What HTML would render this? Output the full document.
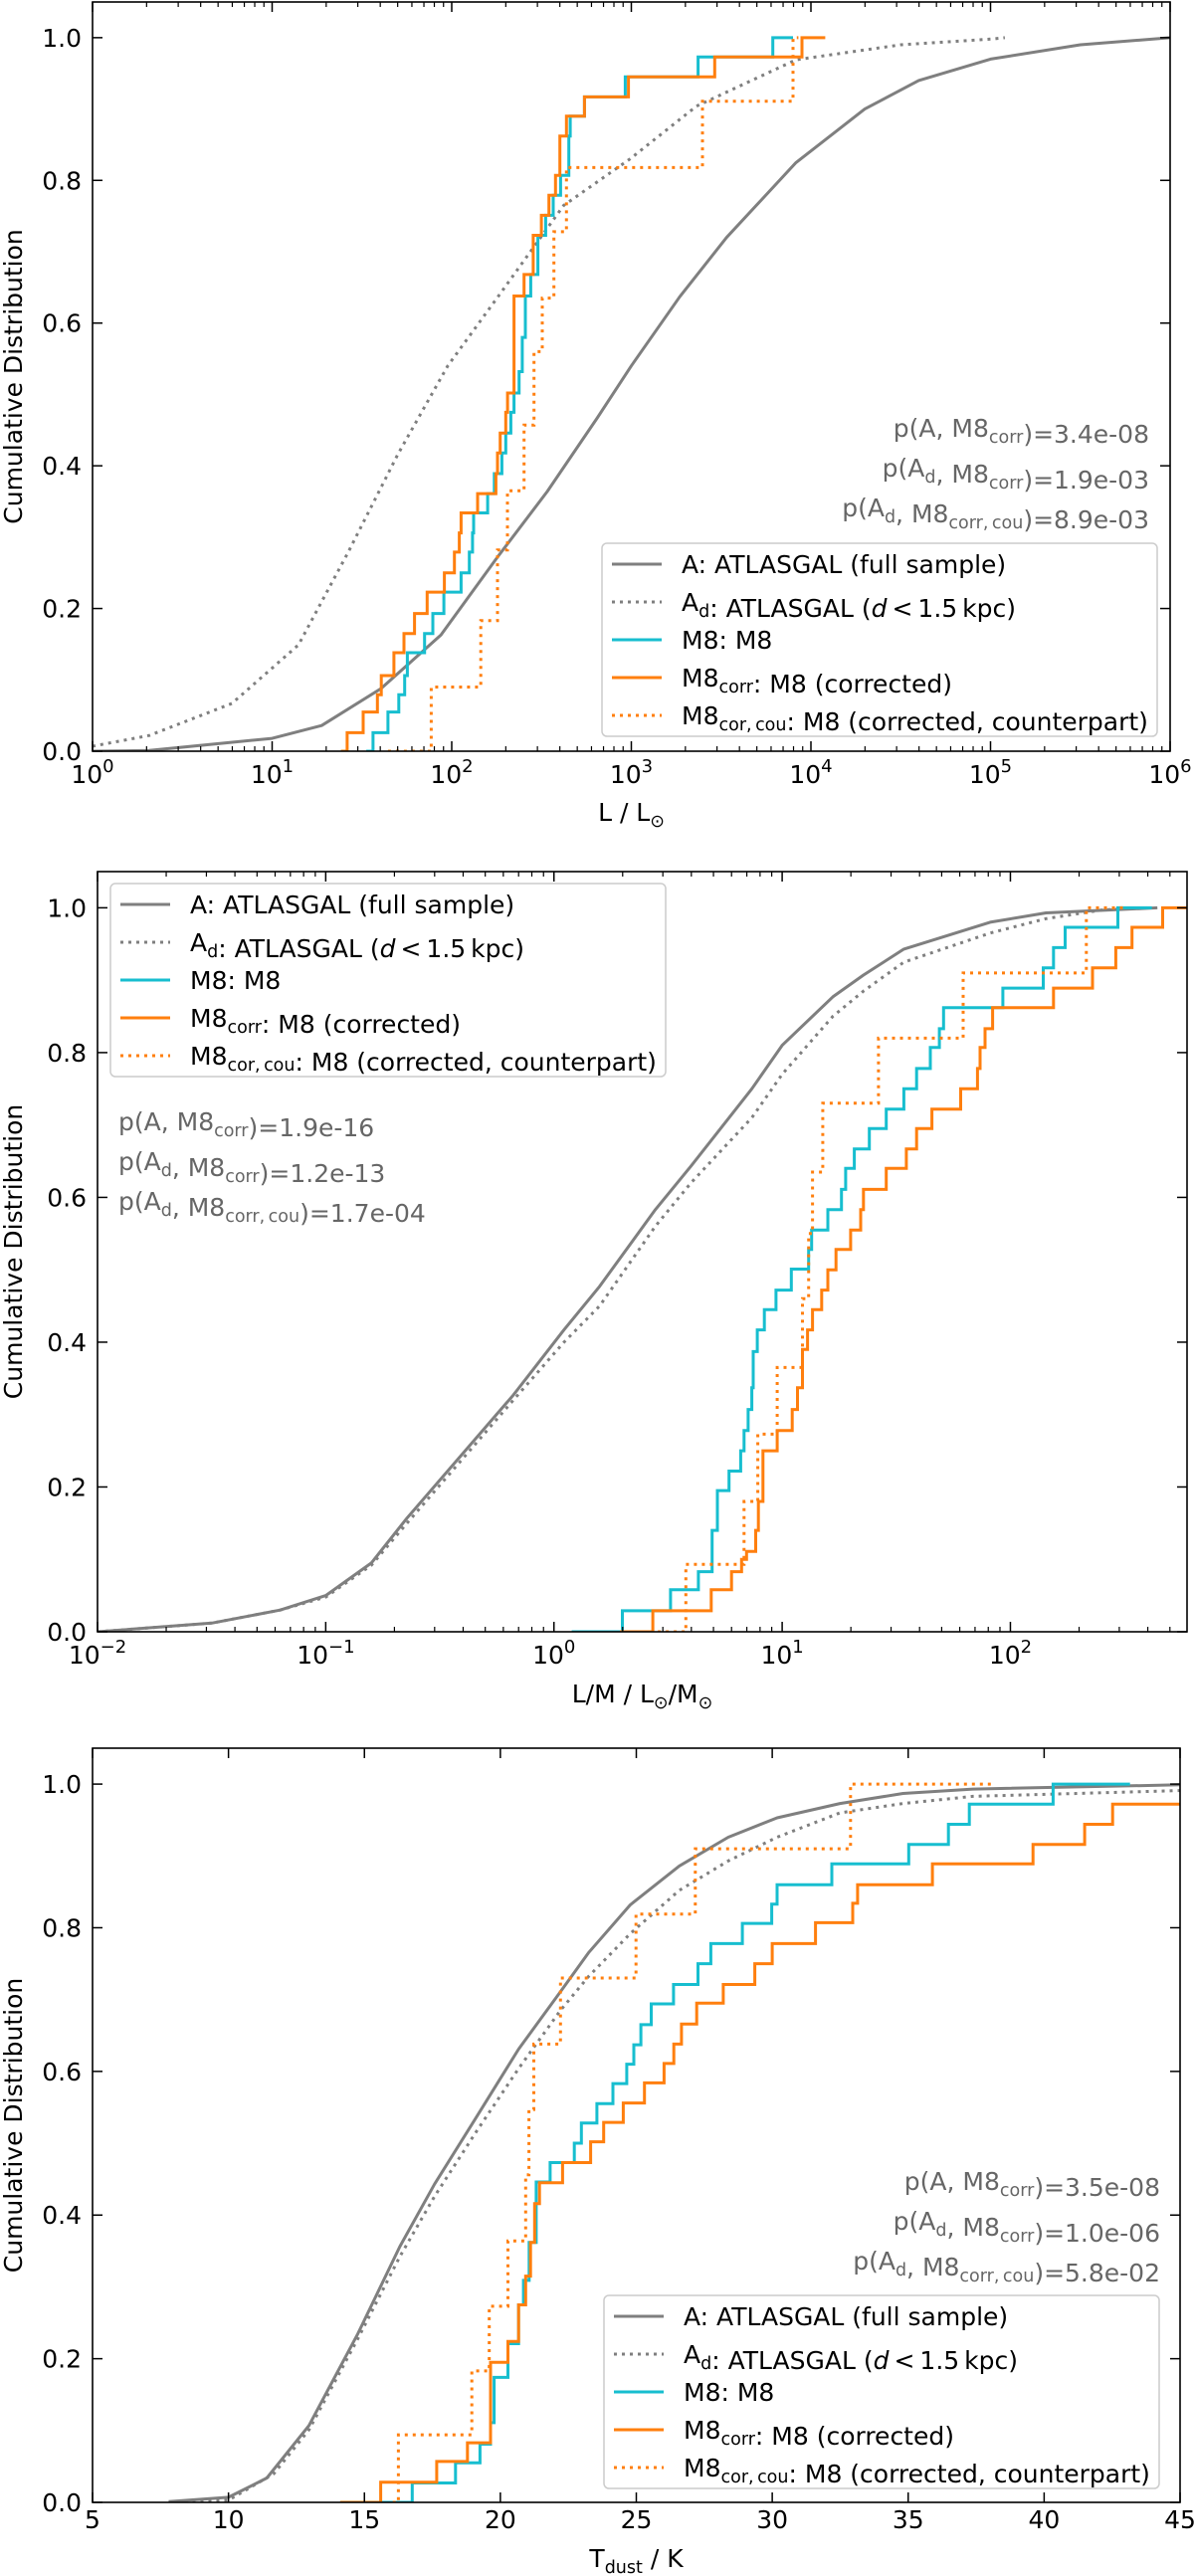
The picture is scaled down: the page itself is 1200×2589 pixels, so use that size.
<!DOCTYPE html>
<html>
<head>
<meta charset="utf-8">
<style>
html,body{margin:0;padding:0;background:#fff;}
svg{display:block;}
text{font-family:"DejaVu Sans","Liberation Sans",sans-serif;}
</style>
</head>
<body>
<svg id="fig" xmlns="http://www.w3.org/2000/svg" width="1200" height="2589" viewBox="0 0 1200 2589">
<rect x="0" y="0" width="1200" height="2589" fill="#fff"/>
<defs id="defs"></defs>
</svg>
<script>
// ---------- Panel 1 data: log10(L / Lsun) ----------
const p1AX = [0, 0.316, 1.0, 1.276, 1.607, 1.94, 2.255, 2.532, 2.81, 3.0, 3.27, 3.53, 3.917, 4.3, 4.6, 5.0, 5.5, 6.0];
const p1AY = [0, 0.001, 0.018, 0.036, 0.088, 0.163, 0.272, 0.364, 0.467, 0.54, 0.637, 0.72, 0.825, 0.9, 0.94, 0.97, 0.99, 1.0];
const p1AdX = [0, 0.316, 0.776, 1.147, 1.424, 1.70, 1.978, 2.255, 2.624, 2.992, 3.363, 3.917, 4.5, 5.0, 5.08];
const p1AdY = [0.007, 0.022, 0.067, 0.149, 0.279, 0.416, 0.54, 0.636, 0.765, 0.83, 0.904, 0.969, 0.99, 0.998, 1.0];
const p1M8Start = 1.524, p1M8End = 3.9;
const p1M8X = [1.562,1.645,1.705,1.738,1.753,1.849,1.895,1.956,2.052,2.098,2.116,2.122,2.2,2.237,2.279,2.301,2.329,2.347,2.375,2.393,2.41,2.44,2.48,2.523,2.565,2.606,2.652,2.66,2.739,2.966,3.372,3.788];
const p1M8Y = [0.026,0.055,0.079,0.106,0.138,0.165,0.193,0.223,0.25,0.279,0.306,0.334,0.361,0.389,0.418,0.446,0.475,0.502,0.532,0.58,0.638,0.668,0.723,0.751,0.779,0.807,0.862,0.89,0.917,0.945,0.973,1.0];
const p1CorrStart = 1.383, p1CorrEnd = 4.08;
const p1CorrX = [1.418,1.507,1.586,1.608,1.678,1.734,1.793,1.863,1.959,2.015,2.042,2.052,2.144,2.246,2.255,2.27,2.301,2.311,2.347,2.403,2.454,2.499,2.541,2.578,2.602,2.639,2.739,2.984,3.464,3.95];
const p1CorrY = [0.026,0.055,0.079,0.106,0.138,0.165,0.193,0.223,0.25,0.279,0.306,0.334,0.361,0.389,0.418,0.446,0.475,0.502,0.638,0.668,0.723,0.751,0.779,0.807,0.862,0.89,0.917,0.945,0.973,1.0];
const p1CouStart = 1.645, p1CouEnd = 3.93;
const p1CouX = [1.886,2.162,2.255,2.31,2.403,2.458,2.504,2.569,2.639,3.396,3.9];
const p1CouY = [0.09,0.183,0.282,0.365,0.457,0.56,0.635,0.728,0.818,0.911,1.0];
const p1Ticks = [0,1,2,3,4,5,6];

// ---------- Panel 2 data: log10(L/M) ----------
const p2AX = [-2, -1.5, -1.2, -1.0, -0.8, -0.644, -0.178, 0.044, 0.2, 0.444, 0.6, 0.867, 1.0, 1.222, 1.356, 1.533, 1.911, 2.156, 2.644];
const p2AY = [0, 0.012, 0.03, 0.05, 0.095, 0.157, 0.327, 0.417, 0.477, 0.583, 0.643, 0.75, 0.81, 0.877, 0.907, 0.943, 0.98, 0.993, 1.0];
const p2AdX = [-2, -1.5, -1.2, -1.0, -0.8, -0.644, -0.178, 0.044, 0.2, 0.444, 0.6, 0.867, 1.0, 1.222, 1.356, 1.533, 1.911, 2.156, 2.4, 2.6];
const p2AdY = [0, 0.012, 0.03, 0.048, 0.092, 0.15, 0.32, 0.40, 0.45, 0.56, 0.62, 0.71, 0.77, 0.85, 0.885, 0.925, 0.965, 0.985, 0.997, 1.0];
const p2M8Start = 0.078, p2M8End = 2.62;
const p2M8X = [0.30,0.511,0.633,0.693,0.716,0.767,0.818,0.833,0.851,0.867,0.873,0.891,0.922,0.973,1.04,1.116,1.129,1.2,1.26,1.278,1.316,1.382,1.456,1.533,1.589,1.649,1.689,1.707,1.967,2.144,2.189,2.24,2.471];
const p2M8Y = [0.029,0.058,0.083,0.14,0.195,0.222,0.25,0.278,0.307,0.337,0.387,0.417,0.445,0.472,0.501,0.528,0.555,0.583,0.611,0.64,0.667,0.695,0.722,0.75,0.778,0.807,0.833,0.862,0.889,0.917,0.945,0.973,1.0];
const p2CorrStart = 0.289, p2CorrEnd = 2.774;
const p2CorrX = [0.433,0.689,0.778,0.822,0.844,0.884,0.896,0.916,0.978,1.044,1.067,1.089,1.111,1.133,1.173,1.2,1.236,1.3,1.344,1.356,1.456,1.544,1.589,1.656,1.782,1.856,1.867,1.889,1.922,2.189,2.36,2.462,2.533,2.667];
const p2CorrY = [0.029,0.058,0.083,0.1,0.111,0.14,0.18,0.25,0.278,0.307,0.337,0.39,0.417,0.445,0.472,0.5,0.528,0.555,0.583,0.611,0.64,0.667,0.695,0.722,0.75,0.778,0.807,0.833,0.862,0.889,0.917,0.945,0.973,1.0];
const p2CouStart = 0.42, p2CouEnd = 2.511;
const p2CouX = [0.578,0.833,0.893,0.978,1.089,1.116,1.133,1.178,1.422,1.793,2.333];
const p2CouY = [0.093,0.18,0.273,0.365,0.46,0.55,0.635,0.73,0.82,0.91,1.0];
const p2Ticks = [-2,-1,0,1,2];

// ---------- Panel 3 data: T_dust (K) ----------
const p3AX = [7.8, 10, 11.41, 12.96, 14.76, 16.3, 17.58, 19.13, 20.67, 22.21, 23.24, 24.78, 26.58, 28.38, 30.18, 32.49, 34.81, 37.38, 45];
const p3AY = [0.001, 0.007, 0.034, 0.107, 0.235, 0.356, 0.443, 0.537, 0.631, 0.711, 0.765, 0.832, 0.886, 0.926, 0.953, 0.973, 0.987, 0.993, 0.999];
const p3AdX = [7.8, 10, 11.67, 12.96, 14.76, 16.3, 17.58, 19.13, 20.67, 22.21, 23.24, 24.78, 26.58, 28.38, 30.18, 32.49, 34.81, 37.38, 45];
const p3AdY = [0, 0.003, 0.04, 0.101, 0.228, 0.342, 0.426, 0.517, 0.604, 0.685, 0.732, 0.792, 0.852, 0.893, 0.926, 0.96, 0.973, 0.983, 0.991];
const p3M8Start = 14.11, p3M8End = 43.16;
const p3M8X = [16.76,18.35,19.25,19.64,19.77,20.28,20.67,20.85,21.06,21.32,21.83,22.72,22.98,23.55,24.14,24.65,24.91,25.17,25.55,26.37,27.27,27.74,28.9,29.98,30.18,32.19,35.02,36.48,37.25,40.33];
const p3M8Y = [0.027,0.055,0.081,0.111,0.174,0.221,0.275,0.309,0.362,0.446,0.473,0.5,0.528,0.555,0.583,0.61,0.637,0.665,0.694,0.721,0.75,0.778,0.806,0.833,0.86,0.889,0.916,0.944,0.972,1.0];
const p3CorrStart = 14.11, p3CorrEnd = 45;
const p3CorrX = [15.6,17.66,18.79,19.64,20.28,20.67,20.93,21.11,21.26,21.44,22.29,23.32,23.8,24.52,25.3,26.02,26.38,26.66,27.22,28.2,29.36,30.0,31.59,32.96,33.14,35.89,39.59,41.49,42.52];
const p3CorrY = [0.028,0.057,0.083,0.195,0.224,0.275,0.315,0.362,0.416,0.445,0.473,0.502,0.529,0.556,0.584,0.611,0.638,0.666,0.695,0.721,0.75,0.778,0.807,0.834,0.86,0.889,0.916,0.944,0.972];
const p3CouStart = 16.04, p3CouEnd = 38.15;
const p3CouX = [16.25,18.95,19.59,20.28,20.93,21.05,21.23,22.21,24.99,27.17,32.88];
const p3CouY = [0.094,0.183,0.273,0.364,0.456,0.547,0.638,0.73,0.819,0.91,1.0];
const p3Ticks = [5,10,15,20,25,30,35,40,45];
const yTicks = [0,0.2,0.4,0.6,0.8,1.0];
const yTickLabels = ['0.0','0.2','0.4','0.6','0.8','1.0'];

const NS = 'http://www.w3.org/2000/svg';
const svg = document.getElementById('fig');
const defs = document.getElementById('defs');
const GREY = '#7f7f7f', CYAN = '#17becf', ORANGE = '#ff7f0e';

function mk(tag, attrs, parent) {
  const e = document.createElementNS(NS, tag);
  for (const k in attrs) e.setAttribute(k, attrs[k]);
  parent.appendChild(e);
  return e;
}

function makePanel(cfg) {
  const P = cfg;
  P.H = (P.y0 - P.top) / 1.05;
  P.sx = v => P.left + (v - P.xmin) / (P.xmax - P.xmin) * (P.right - P.left);
  P.sy = v => P.y0 - v * P.H;
  const g = mk('g', {}, svg);
  
  
  P.g = g;
  const cp = mk('clipPath', {id: 'clip-' + P.name}, defs);
  mk('rect', {x: P.left, y: P.top, width: P.right - P.left, height: P.y0 - P.top}, cp);
  P.plot = mk('g', {'clip-path': 'url(#clip-' + P.name + ')'}, g);
  
  
  return P;
}

function drawCurve(P, xs, ys, color, dotted, name) {
  let d = '';
  for (let i = 0; i < xs.length; i++) d += (i ? 'L' : 'M') + P.sx(xs[i]).toFixed(1) + ',' + P.sy(ys[i]).toFixed(1);
  const p = mk('path', {d: d, fill: 'none', stroke: color, 'stroke-width': 3, 'stroke-linejoin': 'round'}, P.plot);
  if (dotted) p.setAttribute('stroke-dasharray', '3 5');
  
  
}

function drawStep(P, start, xs, ys, end, color, dotted, name) {
  let d = 'M' + P.sx(start).toFixed(1) + ',' + P.sy(0).toFixed(1);
  for (let i = 0; i < xs.length; i++) d += 'H' + P.sx(xs[i]).toFixed(1) + 'V' + P.sy(ys[i]).toFixed(1);
  d += 'H' + P.sx(end).toFixed(1);
  const p = mk('path', {d: d, fill: 'none', stroke: color, 'stroke-width': 3, 'stroke-linejoin': 'miter'}, P.plot);
  if (dotted) p.setAttribute('stroke-dasharray', '3 5');
  
  
}

function drawAxes(P, ticks, isLog) {
  const g = P.g;
  // frame
  const fr = mk('rect', {x: P.left, y: P.top, width: P.right - P.left, height: P.y0 - P.top, fill: 'none', stroke: '#000', 'stroke-width': 1.6}, g);
  
  
  // y ticks
  yTicks.forEach((v, i) => {
    const y = P.sy(v);
    const t1 = mk('line', {x1: P.left, x2: P.left + 10, y1: y, y2: y, stroke: '#000', 'stroke-width': 1.5}, g);
    
    
    const t2 = mk('line', {x1: P.right, x2: P.right - 10, y1: y, y2: y, stroke: '#000', 'stroke-width': 1.5}, g);
    
    
    const lb = mk('text', {x: P.left - 11, y: y + 9, 'font-size': 25, 'text-anchor': 'end', fill: '#000'}, g);
    lb.textContent = yTickLabels[i];
    
    
  });
  // x ticks
  ticks.forEach(v => {
    const x = P.sx(v);
    const a = mk('line', {x1: x, x2: x, y1: P.y0, y2: P.y0 - 10, stroke: '#000', 'stroke-width': 1.5}, g);
    
    
    const b = mk('line', {x1: x, x2: x, y1: P.top, y2: P.top + 10, stroke: '#000', 'stroke-width': 1.5}, g);
    
    
    const lb = mk('text', {x: x, y: isLog ? P.y0 + 32 : P.y0 + 26, 'font-size': 25, 'text-anchor': 'middle', fill: '#000'}, g);
    
    
    if (isLog) {
      const base = mk('tspan', {}, lb);
      base.textContent = '10';
      const ex = mk('tspan', {dy: -11, 'font-size': 18}, lb);
      ex.textContent = v < 0 ? '\u2212' + Math.abs(v) : String(v);
    } else {
      lb.textContent = String(v);
    }
    if (isLog) {
      for (let m = 2; m <= 9; m++) {
        const lv = v + Math.log10(m);
        if (lv > P.xmax) break;
        const mx = P.sx(lv);
        const c = mk('line', {x1: mx, x2: mx, y1: P.y0, y2: P.y0 - 5, stroke: '#000', 'stroke-width': 1.2}, g);
        
        
        const d = mk('line', {x1: mx, x2: mx, y1: P.top, y2: P.top + 5, stroke: '#000', 'stroke-width': 1.2}, g);
        
        
      }
    }
  });
}

function subText(parts) {
  // parts: array of [text, kind] kind: n normal, s sub, i italic
  let s = '';
  parts.forEach(p => {
    if (p[1] === 's') s += '<tspan dy="6" font-size="17.5">' + p[0] + '</tspan><tspan dy="-6"></tspan>';
    else if (p[1] === 'i') s += '<tspan font-style="italic">' + p[0] + '</tspan>';
    else s += '<tspan>' + p[0] + '</tspan>';
  });
  return s;
}

const legendLabels = [
  subText([['A: ATLASGAL (full sample)', 'n']]),
  subText([['A', 'n'], ['d', 's'], [': ATLASGAL (', 'n'], ['d', 'i'], ['\u2009&lt;\u20091.5\u2009kpc)', 'n']]),
  subText([['M8: M8', 'n']]),
  subText([['M8', 'n'], ['corr', 's'], [': M8 (corrected)', 'n']]),
  subText([['M8', 'n'], ['cor,\u2009cou', 's'], [': M8 (corrected, counterpart)', 'n']])
];
const legendStyles = [[GREY, false], [GREY, true], [CYAN, false], [ORANGE, false], [ORANGE, true]];

function drawLegend(P, left, top) {
  let s = '<g>';
  s += '<rect x="' + left + '" y="' + top + '" width="558" height="194" rx="5" fill="#fff" fill-opacity="0.8" stroke="#cccccc" stroke-width="1.5"/>';
  const names = ['legend-entry-atlasgal', 'legend-entry-atlasgal-near', 'legend-entry-m8', 'legend-entry-m8-corr', 'legend-entry-m8-cor-cou'];
  for (let i = 0; i < 5; i++) {
    const cy = top + 21 + 38 * i;
    s += '<g>';
    s += '<line x1="' + (left + 10) + '" x2="' + (left + 60) + '" y1="' + cy + '" y2="' + cy + '" stroke="' + legendStyles[i][0] + '" stroke-width="3"' + (legendStyles[i][1] ? ' stroke-dasharray="3 5"' : '') + '/>';
    s += '<text x="' + (left + 80) + '" y="' + (cy + 9) + '" font-size="25" fill="#000">' + legendLabels[i] + '</text>';
    s += '</g>';
  }
  s += '</g>';
  P.g.insertAdjacentHTML('beforeend', s);
}

function drawPValues(P, x, y, anchor, vals) {
  const lines = [
    subText([['p(A, M8', 'n'], ['corr', 's'], [')=' + vals[0], 'n']]),
    subText([['p(A', 'n'], ['d', 's'], [', M8', 'n'], ['corr', 's'], [')=' + vals[1], 'n']]),
    subText([['p(A', 'n'], ['d', 's'], [', M8', 'n'], ['corr,\u2009cou', 's'], [')=' + vals[2], 'n']])
  ];
  let s = '<g>';
  lines.forEach((l, i) => {
    s += '<text x="' + x + '" y="' + (y + 40 * i) + '" font-size="25" fill="#666" text-anchor="' + anchor + '">' + l + '</text>';
  });
  s += '</g>';
  P.g.insertAdjacentHTML('beforeend', s);
}

function axisLabels(P, xlabelHtml, xlabelY) {
  const cy = (P.top + P.y0) / 2;
  let s = '<text x="0" y="0" font-size="25" text-anchor="middle" transform="translate(22,' + cy + ') rotate(-90)">Cumulative Distribution</text>';
  s += '<text x="' + ((P.left + P.right) / 2) + '" y="' + xlabelY + '" font-size="25" text-anchor="middle">' + xlabelHtml + '</text>';
  P.g.insertAdjacentHTML('beforeend', s);
}

// ---------- Panel 1 ----------
const P1 = makePanel({name: 'luminosity-panel', left: 93, right: 1176, top: 2, y0: 755, xmin: 0, xmax: 6});
drawCurve(P1, p1AX, p1AY, GREY, false, 'atlasgal-full-curve');
drawCurve(P1, p1AdX, p1AdY, GREY, true, 'atlasgal-near-curve');
drawStep(P1, p1M8Start, p1M8X, p1M8Y, p1M8End, CYAN, false, 'm8-step');
drawStep(P1, p1CorrStart, p1CorrX, p1CorrY, p1CorrEnd, ORANGE, false, 'm8-corr-step');
drawStep(P1, p1CouStart, p1CouX, p1CouY, p1CouEnd, ORANGE, true, 'm8-cor-cou-step');
drawAxes(P1, p1Ticks, true);
drawPValues(P1, 1155, 439, 'end', ['3.4e-08', '1.9e-03', '8.9e-03']);
drawLegend(P1, 605, 546);
axisLabels(P1, 'L / L<tspan dy="6" font-size="17.5">\u2299</tspan>', 825);

// ---------- Panel 2 ----------
const P2 = makePanel({name: 'light-to-mass-panel', left: 98, right: 1193, top: 876, y0: 1640, xmin: -2, xmax: 2.774});
drawCurve(P2, p2AX, p2AY, GREY, false, 'atlasgal-full-curve');
drawCurve(P2, p2AdX, p2AdY, GREY, true, 'atlasgal-near-curve');
drawStep(P2, p2M8Start, p2M8X, p2M8Y, p2M8End, CYAN, false, 'm8-step');
drawStep(P2, p2CorrStart, p2CorrX, p2CorrY, p2CorrEnd, ORANGE, false, 'm8-corr-step');
drawStep(P2, p2CouStart, p2CouX, p2CouY, p2CouEnd, ORANGE, true, 'm8-cor-cou-step');
drawAxes(P2, p2Ticks, true);
drawLegend(P2, 111, 888);
drawPValues(P2, 119, 1136, 'start', ['1.9e-16', '1.2e-13', '1.7e-04']);
axisLabels(P2, 'L/M / L<tspan dy="6" font-size="17.5">\u2299</tspan><tspan dy="-6">/M</tspan><tspan dy="6" font-size="17.5">\u2299</tspan>', 1711);

// ---------- Panel 3 ----------
const P3 = makePanel({name: 'dust-temperature-panel', left: 93, right: 1186, top: 1757, y0: 2515, xmin: 5, xmax: 45});
drawCurve(P3, p3AX, p3AY, GREY, false, 'atlasgal-full-curve');
drawCurve(P3, p3AdX, p3AdY, GREY, true, 'atlasgal-near-curve');
drawStep(P3, p3M8Start, p3M8X, p3M8Y, p3M8End, CYAN, false, 'm8-step');
drawStep(P3, p3CorrStart, p3CorrX, p3CorrY, p3CorrEnd, ORANGE, false, 'm8-corr-step');
drawStep(P3, p3CouStart, p3CouX, p3CouY, p3CouEnd, ORANGE, true, 'm8-cor-cou-step');
drawAxes(P3, p3Ticks, false);
drawPValues(P3, 1166, 2201, 'end', ['3.5e-08', '1.0e-06', '5.8e-02']);
drawLegend(P3, 607, 2307);
axisLabels(P3, 'T<tspan dy="6" font-size="17.5">dust</tspan><tspan dy="-6"> / K</tspan>', 2580);
</script>
</body>
</html>
